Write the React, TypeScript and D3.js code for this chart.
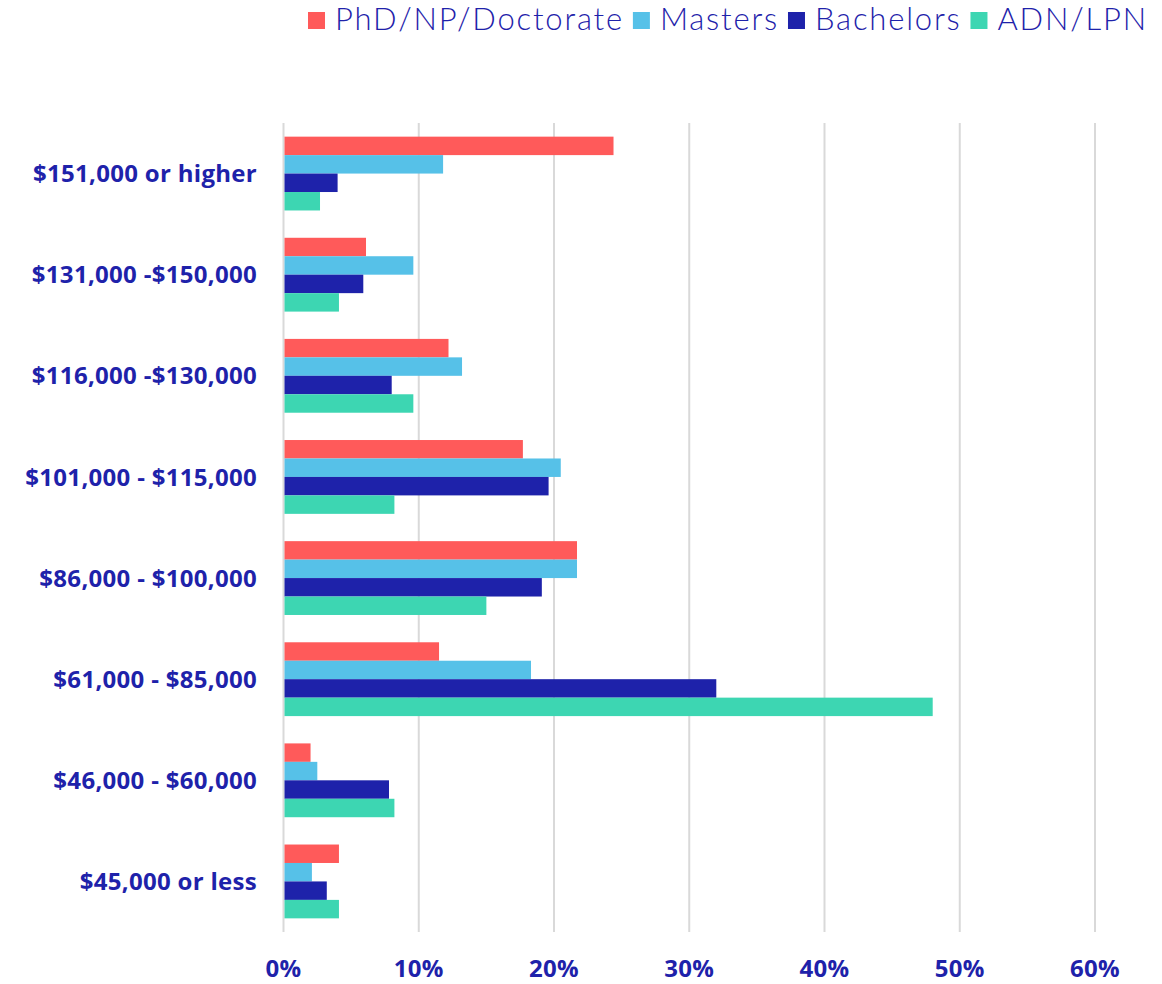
import React, { useEffect, useRef } from "react";
import * as d3 from "d3";

const categories = [
  "$151,000 or higher",
  "$131,000 -$150,000",
  "$116,000 -$130,000",
  "$101,000 - $115,000",
  "$86,000 - $100,000",
  "$61,000 - $85,000",
  "$46,000 - $60,000",
  "$45,000 or less",
];

const seriesNames = ["PhD/NP/Doctorate", "Masters", "Bachelors", "ADN/LPN"];
const seriesColors = ["#FF5A5A", "#56C1E8", "#1E22AA", "#3DD6B2"];

const phdValues = [24.4, 6.1, 12.2, 17.7, 21.7, 11.5, 2.0, 4.1];
const mastersValues = [11.8, 9.6, 13.2, 20.5, 21.7, 18.3, 2.5, 2.1];
const bachelorsValues = [4.0, 5.9, 8.0, 19.6, 19.1, 32.0, 7.8, 3.2];
const adnValues = [2.7, 4.1, 9.6, 8.2, 15.0, 48.0, 8.2, 4.1];

const xTicks = [0, 10, 20, 30, 40, 50, 60];

const W = 1162;
const H = 984;
const TEXT = "#1E22AA";

export default function App() {
  const ref = useRef<SVGSVGElement | null>(null);

  useEffect(() => {
    const svg = d3.select(ref.current);
    svg.selectAll("*").remove();

    const allSeries = [phdValues, mastersValues, bachelorsValues, adnValues];

    const x = d3.scaleLinear().domain([0, 60]).range([283.5, 1095]);
    const y = d3
      .scaleBand<string>()
      .domain(categories)
      .range([123, 932])
      .paddingInner(0.27)
      .paddingOuter(0.135);
    const ySub = d3
      .scaleBand<number>()
      .domain(d3.range(seriesNames.length))
      .range([0, y.bandwidth()]);

    // gridlines
    svg
      .append("g")
      .selectAll("line")
      .data(xTicks)
      .join("line")
      .attr("x1", (d) => x(d))
      .attr("x2", (d) => x(d))
      .attr("y1", 123)
      .attr("y2", 932)
      .attr("stroke", "#d9d9d9")
      .attr("stroke-width", 2);

    // bars
    const groups = svg
      .append("g")
      .selectAll("g")
      .data(categories)
      .join("g")
      .attr("transform", (d) => `translate(0,${y(d)})`);

    groups
      .selectAll("rect")
      .data((_, i) => allSeries.map((s, si) => ({ si, v: s[i] })))
      .join("rect")
      .attr("x", x(0) + 1)
      .attr("y", (d) => ySub(d.si)!)
      .attr("width", (d) => x(d.v) - x(0) - 1)
      .attr("height", ySub.bandwidth())
      .attr("fill", (d) => seriesColors[d.si]);

    // category labels
    svg
      .append("g")
      .selectAll("text")
      .data(categories)
      .join("text")
      .attr("x", 257)
      .attr("y", (d) => y(d)! + y.bandwidth() / 2)
      .attr("dy", "0.36em")
      .attr("text-anchor", "end")
      .attr("font-family", "'Open Sans', sans-serif")
      .attr("font-weight", 700)
      .attr("font-size", 24)
      .attr("letter-spacing", 0.3)
      .attr("fill", TEXT)
      .text((d) => d);

    // x tick labels
    svg
      .append("g")
      .selectAll("text")
      .data(xTicks)
      .join("text")
      .attr("x", (d) => x(d))
      .attr("y", 977)
      .attr("text-anchor", "middle")
      .attr("font-family", "'Open Sans', sans-serif")
      .attr("font-weight", 700)
      .attr("font-size", 24)
      .attr("letter-spacing", 0.3)
      .attr("fill", TEXT)
      .text((d) => `${d}%`);

    // legend
    const legend = svg.append("g");
    let cx = 308;
    seriesNames.forEach((name, i) => {
      legend
        .append("rect")
        .attr("x", cx)
        .attr("y", 12)
        .attr("width", 17)
        .attr("height", 17)
        .attr("fill", seriesColors[i]);
      const t = legend
        .append("text")
        .attr("x", cx + 27)
        .attr("y", 30)
        .attr("font-family", "Lato, sans-serif")
        .attr("font-weight", 300)
        .attr("font-size", 31)
        .attr("letter-spacing", 1.8)
        .attr("fill", TEXT)
        .text(name);
      const w = (t.node() as SVGTextElement).getComputedTextLength();
      cx = cx + 27 + w + 9;
    });
  }, []);

  return (
    <div style={{ position: "absolute", left: 0, top: 0 }}>
      <svg ref={ref} width={W} height={H} style={{ display: "block", background: "#fff" }} />
    </div>
  );
}
